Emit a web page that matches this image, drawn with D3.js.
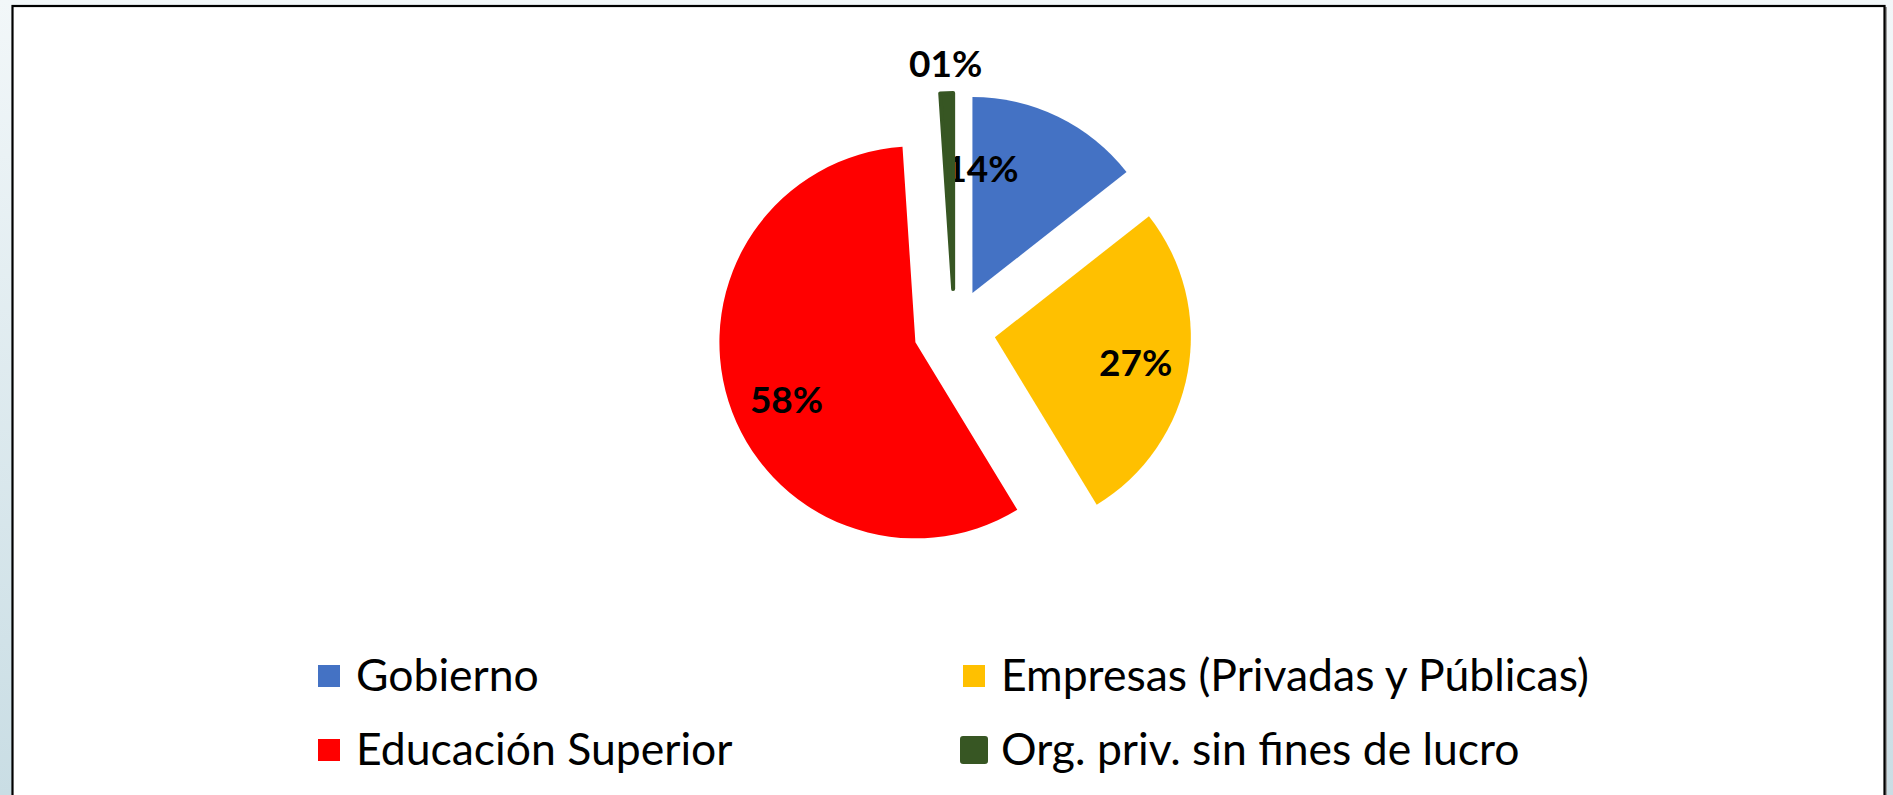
<!doctype html>
<html>
  <head>
    <meta charset="utf-8">
    <script src="https://cdn.jsdelivr.net/npm/d3@7"></script>
    <style>
      body { margin: 0; }
      svg { display: block; }
    </style>
  </head>
  <body>
    <svg id="chart" width="1893" height="795"></svg>

    <script>
      // data (share of total, in %)
      var categories = ["Gobierno", "Empresas (Privadas y Públicas)", "Educación Superior", "Org. priv. sin fines de lucro"];
      var shares = [14.4, 26.9, 57.65, 1.05];
      var colors = ["#4472C4", "#FFC000", "#FF0000", "#375623"];

      // legend grid: which column / row each category sits in
      var legendCol = [0, 1, 0, 1];
      var legendRow = [0, 0, 1, 1];

      // where Excel dropped each data label (turn in degrees from mid-angle, radius as share of R)
      var labelPlacement = {
        "Gobierno": { turn: -21.5, r: 0.635 },
        "Empresas (Privadas y Públicas)": { turn: 0, r: 0.73 },
        "Educación Superior": { turn: -6.5, r: 0.72 },
        "Org. priv. sin fines de lucro": { turn: 0, r: 1.15 }
      };

      var W = 1893, H = 795;
      var cx = 954.5, cy = 330, R = 196, explode = 41;

      var svg = d3.select("#chart");

      // page background + chart frame
      var defs = svg.append("defs");
      var grad = defs.append("linearGradient")
        .attr("id", "bg").attr("x1", 0).attr("y1", 0).attr("x2", 0).attr("y2", 1);
      grad.append("stop").attr("offset", "0%").attr("stop-color", "#f2f7f9");
      grad.append("stop").attr("offset", "100%").attr("stop-color", "#c9dde4");

      svg.append("rect").attr("width", W).attr("height", H).attr("fill", "url(#bg)");
      // soft shadow on the right
      svg.append("rect")
        .attr("x", 14).attr("y", 7).attr("width", 1873).attr("height", H)
        .attr("fill", "#9a9a9a");
      svg.append("rect")
        .attr("x", 12.5).attr("y", 6).attr("width", 1872).attr("height", H + 10)
        .attr("fill", "#fff").attr("stroke", "#000").attr("stroke-width", 2.2);

      var data = categories.map(function(c, i) {
        return { name: c, value: shares[i], color: colors[i], col: legendCol[i], row: legendRow[i] };
      });

      var pie = d3.pie().sort(null).value(function(d) { return d.value; });
      var arcs = pie(data);
      var arc = d3.arc().innerRadius(0).outerRadius(R);

      function mid(a) { return (a.startAngle + a.endAngle) / 2; }

      var pieG = svg.append("g").attr("transform", "translate(" + cx + "," + cy + ")");

      var slices = pieG.selectAll("g.slice")
        .data(arcs)
        .enter()
        .append("g")
        .attr("class", "slice")
        .attr("transform", function(a) {
          var m = mid(a);
          return "translate(" + (Math.sin(m) * explode) + "," + (-Math.cos(m) * explode) + ")";
        });

      slices.append("path")
        .attr("d", arc)
        .attr("fill", function(a) { return a.data.color; })
        .attr("stroke", function(a) { return a.data.value < 2 ? a.data.color : "none"; })
        .attr("stroke-width", 4)
        .attr("stroke-linejoin", "round");

      var pct = d3.format("02d");

      slices.append("text")
        .attr("transform", function(a) {
          var p = labelPlacement[a.data.name];
          var ang = mid(a) + p.turn * Math.PI / 180;
          var r = p.r * R;
          return "translate(" + (Math.sin(ang) * r) + "," + (-Math.cos(ang) * r) + ")";
        })
        .attr("text-anchor", "middle")
        .attr("dy", "0.36em")
        .attr("font-family", "Lato, 'Open Sans', sans-serif")
        .attr("font-weight", "bold")
        .attr("font-size", 37)
        .attr("fill", "#000")
        .text(function(a) { return pct(Math.round(a.data.value)) + "%"; });

      // legend
      var colX = d3.scaleOrdinal().domain([0, 1]).range([318, 963]);
      var rowY = d3.scaleOrdinal().domain([0, 1]).range([691, 765]);
      var key = 22;

      var legend = svg.append("g").selectAll("g")
        .data(data)
        .enter()
        .append("g")
        .attr("transform", function(d) { return "translate(" + colX(d.col) + "," + rowY(d.row) + ")"; });

      legend.append("rect")
        .attr("x", 0)
        .attr("y", -15 - key / 2)
        .attr("width", key)
        .attr("height", key)
        .attr("fill", function(d) { return d.color; })
        .attr("stroke", function(d) { return d.value < 2 ? d.color : "none"; })
        .attr("stroke-width", 6)
        .attr("stroke-linejoin", "round");

      legend.append("text")
        .attr("x", 38)
        .attr("font-family", "Lato, 'Open Sans', sans-serif")
        .attr("font-size", 44.5)
        .attr("fill", "#000")
        .text(function(d) { return d.name; });
    </script>
  </body>
</html>
